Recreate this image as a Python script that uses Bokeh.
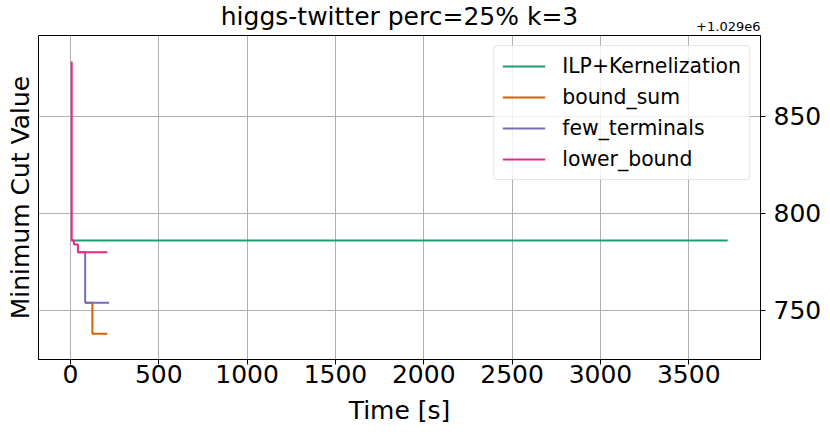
from bokeh.plotting import figure
from bokeh.models import Range1d, FixedTicker, Title, Label
from bokeh.embed import file_html
from bokeh.resources import INLINE

OFFSET = 1029000
TITLE = "higgs-twitter perc=25% k=3"
X_TICKS = [0, 500, 1000, 1500, 2000, 2500, 3000, 3500]
Y_TICKS = [750, 800, 850]

ilp_t = [7, 3720]
ilp_v = [1029786, 1029786]

bound_sum_t = [83, 124, 209]
bound_sum_v = [1029754, 1029738, 1029738]

few_terminals_t = [42, 83, 219]
few_terminals_v = [1029780, 1029754, 1029754]

lower_bound_t = [5, 7, 19, 42, 209]
lower_bound_v = [1029878, 1029786, 1029784, 1029780, 1029780]

series = [
    ("ILP+Kernelization", ilp_t, ilp_v, "#1b9e77"),
    ("bound_sum", bound_sum_t, bound_sum_v, "#d95f02"),
    ("few_terminals", few_terminals_t, few_terminals_v, "#7570b3"),
    ("lower_bound", lower_bound_t, lower_bound_v, "#e7298a"),
]

FONT = "DejaVu Sans"

p = figure(frame_width=722, frame_height=324, output_backend="svg", toolbar_location=None,
           x_range=Range1d(-181, 3906), y_range=Range1d(724.7, 891.7),
           y_axis_location="right", min_border_left=31, min_border_top=28,
           min_border_right=60, min_border_bottom=0)
p.background_fill_color = "white"
p.border_fill_color = "white"
p.outline_line_color = "black"
p.outline_line_width = 1

p.title.text = TITLE
p.title.text_font = FONT
p.title.text_font_size = "25px"
p.title.text_font_style = "normal"
p.title.text_color = "black"
p.title.align = "center"
p.title.standoff = -9
p.title.padding = dict(left=0, right=0, top=4, bottom=0)

p.add_layout(Title(text="Minimum Cut Value", text_font=FONT, text_font_size="25px",
                   text_color="black", text_font_style="normal", align="center",
                   standoff=7), "left")

for name, t, v, c in series:
    p.step([x for x in t], [y - OFFSET for y in v], mode="after", line_color=c,
           line_width=2, legend_label=name)

p.xaxis.ticker = FixedTicker(ticks=X_TICKS)
p.yaxis.ticker = FixedTicker(ticks=Y_TICKS)
for ax in (p.xaxis[0], p.yaxis[0]):
    ax.major_label_text_font = FONT
    ax.major_label_text_font_size = "25px"
    ax.major_label_text_color = "black"
    ax.axis_line_color = "black"
    ax.major_tick_line_color = "black"
    ax.major_tick_out = 5
    ax.major_tick_in = 0
    ax.minor_tick_out = 0
    ax.minor_tick_in = 0
p.xaxis.major_label_standoff = 0
p.yaxis.major_label_standoff = 8
p.xaxis.axis_label = "Time [s]"
p.xaxis.axis_label_text_font = FONT
p.xaxis.axis_label_text_font_size = "25px"
p.xaxis.axis_label_text_font_style = "normal"
p.xaxis.axis_label_text_color = "black"
p.xaxis.axis_label_standoff = 10

p.xgrid.grid_line_color = "#b0b0b0"
p.ygrid.grid_line_color = "#b0b0b0"
p.xgrid.grid_line_width = 1
p.ygrid.grid_line_width = 1

p.add_layout(Label(x=722, y=5, x_units="screen", y_units="screen", text="+1.029e6",
                   text_font=FONT, text_font_size="13px", text_color="black",
                   text_align="right", text_baseline="bottom"), "above")

lg = p.legend[0]
lg.location = "top_right"
lg.margin = 10
lg.label_text_font = FONT
lg.label_text_font_size = "20.4px"
lg.label_text_color = "black"
lg.glyph_width = 43
lg.glyph_height = 24
lg.label_height = 24
lg.spacing = 7
lg.padding = 8
lg.label_standoff = 17
lg.border_line_color = "#cccccc"
lg.border_radius = 4
lg.background_fill_alpha = 0.8

open("out.html", "w").write(file_html(p, INLINE))
